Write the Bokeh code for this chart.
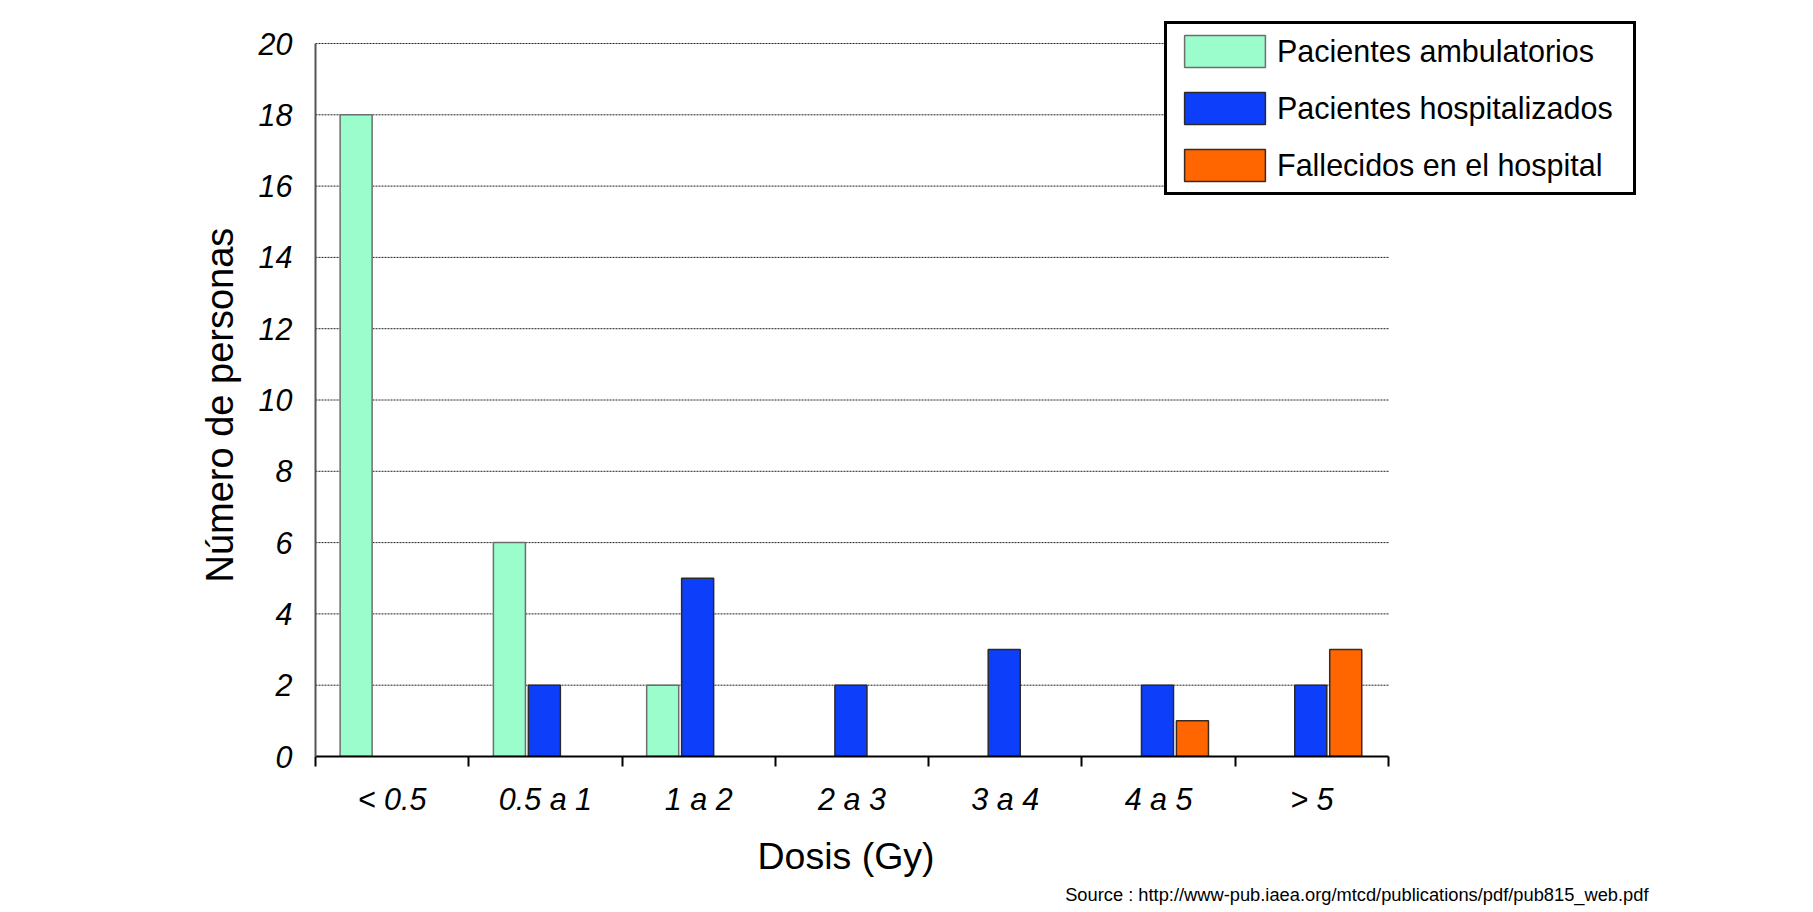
from bokeh.plotting import figure
from bokeh.models import Range1d, FixedTicker, Legend, LegendItem, Title, ColumnDataSource
from bokeh.embed import file_html
from bokeh.resources import INLINE

# ---- data ----
categories = ["< 0.5", "0.5 a 1", "1 a 2", "2 a 3", "3 a 4", "4 a 5", "> 5"]
ambulatorios = [18, 6, 2, 0, 0, 0, 0]
hospitalizados = [0, 2, 5, 2, 3, 2, 2]
fallecidos = [0, 0, 0, 0, 0, 1, 3]
series_names = ["Pacientes ambulatorios", "Pacientes hospitalizados", "Fallecidos en el hospital"]
y_ticks = [0, 2, 4, 6, 8, 10, 12, 14, 16, 18, 20]
y_max = 20

x_title = "Dosis (Gy)"
y_title = "Número de personas"
source_text = "Source : http://www-pub.iaea.org/mtcd/publications/pdf/pub815_web.pdf"

# ---- styles / layout ----
FONT = "Liberation Sans"
fills = ["#9CFDCC", "#0D3FFB", "#FF6600"]
lines = ["#6E6E6E", "#2A2A2A", "#3A2A20"]
offsets = [-0.235, -0.007, 0.221]
bar_w = 0.209

W, H = 1813, 912
frame_left, frame_right, frame_top, frame_bottom = 315, 1660, 10, 756
axis_px_w = 1073      # pixel length of the category axis
axis_px_h = 713       # pixel height from 0 to y_max

n = len(categories)
centers = [i + 0.5 for i in range(n)]
bounds = [float(i) for i in range(n + 1)]

frame_w = frame_right - frame_left
frame_h = frame_bottom - frame_top
x_end = n * frame_w / axis_px_w
y_end = y_max * frame_h / axis_px_h

p = figure(width=W, height=H, output_backend="svg", toolbar_location=None,
           x_range=Range1d(0, x_end), y_range=Range1d(0, y_end),
           min_border_left=frame_left, min_border_right=W - frame_right,
           min_border_top=frame_top, min_border_bottom=H - frame_bottom)
p.outline_line_color = None
p.background_fill_color = "white"
p.border_fill_color = "white"
p.xgrid.visible = False
p.ygrid.visible = False

# dotted horizontal grid lines, only over the category span
gy = y_ticks[1:]
p.segment(x0=[0] * len(gy), x1=[n] * len(gy), y0=gy, y1=gy,
          line_color="#222222", line_dash="2 1", line_width=1)

renderers = []
for vals, fc, lc, off in zip([ambulatorios, hospitalizados, fallecidos], fills, lines, offsets):
    xs = [c + off for c, v in zip(centers, vals) if v > 0]
    tops = [v for v in vals if v > 0]
    src = ColumnDataSource(dict(x=xs, top=tops))
    r = p.vbar(x="x", top="top", bottom=0, width=bar_w, source=src,
               fill_color=fc, line_color=lc, line_width=1.5)
    renderers.append(r)

# x axis: labels at category centres, ticks at boundaries
xa = p.xaxis[0]
xa.bounds = (0, n)
xa.ticker = FixedTicker(ticks=centers, minor_ticks=bounds)
xa.major_label_overrides = {c: lab for c, lab in zip(centers, categories)}
xa.major_tick_line_color = None
xa.major_tick_out = 0
xa.major_tick_in = 0
xa.minor_tick_line_color = "black"
xa.minor_tick_line_width = 2
xa.minor_tick_out = 10
xa.minor_tick_in = 0
xa.axis_line_color = "black"
xa.axis_line_width = 2
xa.major_label_text_font = FONT
xa.major_label_text_font_style = "italic"
xa.major_label_text_font_size = "30.5px"
xa.major_label_text_color = "black"
xa.major_label_standoff = 15

ya = p.yaxis[0]
ya.bounds = (0, y_max)
ya.ticker = FixedTicker(ticks=y_ticks)
ya.major_tick_line_color = None
ya.major_tick_out = 0
ya.major_tick_in = 0
ya.minor_tick_line_color = None
ya.axis_line_color = "#555555"
ya.axis_line_width = 2
ya.major_label_text_font = FONT
ya.major_label_text_font_style = "italic"
ya.major_label_text_font_size = "30.5px"
ya.major_label_text_color = "black"
ya.major_label_standoff = 23

# axis titles (placed as side-panel titles so they can be positioned along the axis)
x_title_obj = Title(text=x_title, align="left", offset=442, standoff=28,
                    text_font=FONT, text_font_size="37.5px", text_font_style="normal",
                    text_color="black")
p.add_layout(x_title_obj, "below")

src_title = Title(text=source_text, align="right", offset=12, standoff=-18,
                  text_font=FONT, text_font_size="18.3px", text_font_style="normal",
                  text_color="black")
p.add_layout(src_title, "below")

y_title_obj = Title(text=y_title, align="left", offset=174, standoff=30,
                    text_font=FONT, text_font_size="38px", text_font_style="normal",
                    text_color="black")
p.add_layout(y_title_obj, "left")

legend = Legend(items=[LegendItem(label=nm, renderers=[r]) for nm, r in zip(series_names, renderers)],
                location=(849, 561), orientation="vertical",
                glyph_width=101, glyph_height=40, label_height=40, label_width=349,
                label_standoff=2, spacing=17, padding=7,
                label_text_font=FONT, label_text_font_size="30.5px", label_text_color="black",
                border_line_color="black", border_line_width=3.5, border_line_alpha=1.0,
                background_fill_color="white", background_fill_alpha=1.0)
p.add_layout(legend, "center")

open("out.html", "w").write(file_html(p, INLINE))
